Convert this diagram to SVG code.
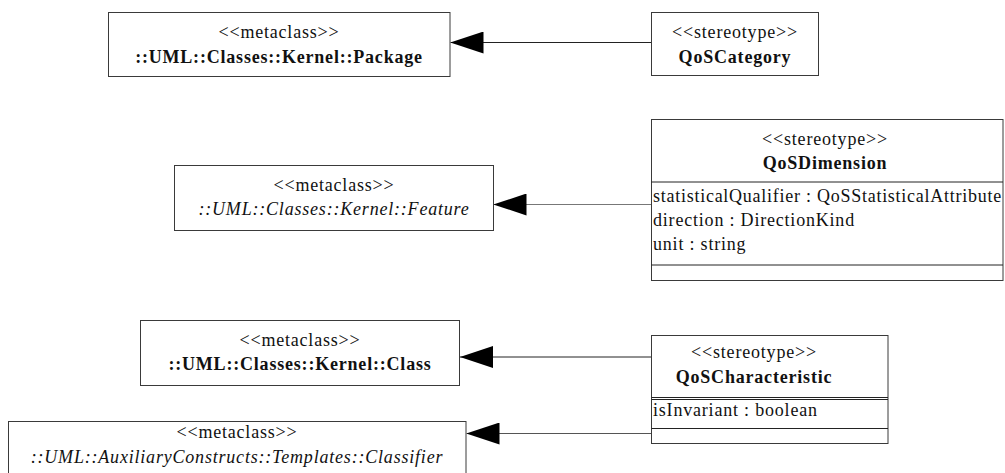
<svg xmlns="http://www.w3.org/2000/svg" width="1005" height="473" viewBox="0 0 1005 473">
<style>
.box{fill:#fff;stroke:#3a3a3a;stroke-width:1}
.div{stroke:#222;stroke-width:1}
.t{font-family:"Liberation Serif","Times New Roman",serif;font-size:18px;letter-spacing:0.8px;fill:#111}
.c{text-anchor:middle}
.b{font-weight:bold}
.i{font-style:italic}
.conn{stroke:#222;stroke-width:1;fill:none;marker-end:url(#gen)}
</style>
<defs>
<marker id="gen" markerUnits="userSpaceOnUse" viewBox="0 0 33 22" refX="33" refY="11" markerWidth="33" markerHeight="22" orient="auto">
<path d="M0,0 L33,11 L0,22 Z" fill="#000"/>
</marker>
</defs>
<g id="connectors">
<line class="conn" x1="651" y1="42.5" x2="450.5" y2="42.5"/>
<line class="conn" x1="651" y1="204.5" x2="493.5" y2="204.5" style="stroke:#777"/>
<line class="conn" x1="651" y1="357" x2="460" y2="357"/>
<line class="conn" x1="651" y1="433.5" x2="466.5" y2="433.5" style="stroke:#555"/>
</g>
<g id="package">
<rect class="box" x="108.5" y="12.5" width="341.5" height="64"/>
<text class="t c" x="279" y="38">&lt;&lt;metaclass&gt;&gt;</text>
<text class="t c b" x="279" y="63">::UML::Classes::Kernel::Package</text>
</g>
<g id="qoscategory">
<rect class="box" x="651.5" y="12.5" width="167" height="63"/>
<text class="t c" x="735" y="38">&lt;&lt;stereotype&gt;&gt;</text>
<text class="t c b" x="735" y="63">QoSCategory</text>
</g>
<g id="feature">
<rect class="box" x="174.5" y="165.5" width="319" height="65"/>
<text class="t c" x="334" y="191">&lt;&lt;metaclass&gt;&gt;</text>
<text class="t c i" x="334" y="215">::UML::Classes::Kernel::Feature</text>
</g>
<g id="qosdimension">
<rect class="box" x="651.5" y="119.5" width="351.5" height="161"/>
<text class="t c" x="825" y="145">&lt;&lt;stereotype&gt;&gt;</text>
<text class="t c b" x="825" y="169">QoSDimension</text>
<line class="div" x1="651.5" y1="182" x2="1003" y2="182" stroke-width="2"/>
<text class="t" x="653" y="202" textLength="349" lengthAdjust="spacing">statisticalQualifier : QoSStatisticalAttribute</text>
<text class="t" x="653" y="226">direction : DirectionKind</text>
<text class="t" x="653" y="250">unit : string</text>
<line class="div" x1="651.5" y1="265" x2="1003" y2="265" stroke-width="2"/>
</g>
<g id="class">
<rect class="box" x="140.5" y="320.5" width="319" height="65"/>
<text class="t c" x="300" y="346">&lt;&lt;metaclass&gt;&gt;</text>
<text class="t c b" x="300" y="370">::UML::Classes::Kernel::Class</text>
</g>
<g id="qoscharacteristic">
<rect class="box" x="651.5" y="335.5" width="236.5" height="108"/>
<text class="t c" x="754" y="358">&lt;&lt;stereotype&gt;&gt;</text>
<text class="t c b" x="754" y="383">QoSCharacteristic</text>
<line class="div" x1="651.5" y1="397.5" x2="888" y2="397.5"/>
<line class="div" x1="651.5" y1="399.5" x2="888" y2="399.5"/>
<text class="t" x="653" y="416">isInvariant : boolean</text>
<line class="div" x1="651.5" y1="428.5" x2="888" y2="428.5"/>
</g>
<g id="classifier">
<rect class="box" x="8.5" y="421.5" width="457.5" height="70"/>
<text class="t c" x="237" y="438">&lt;&lt;metaclass&gt;&gt;</text>
<text class="t c i" x="237" y="463">::UML::AuxiliaryConstructs::Templates::Classifier</text>
</g>
</svg>
